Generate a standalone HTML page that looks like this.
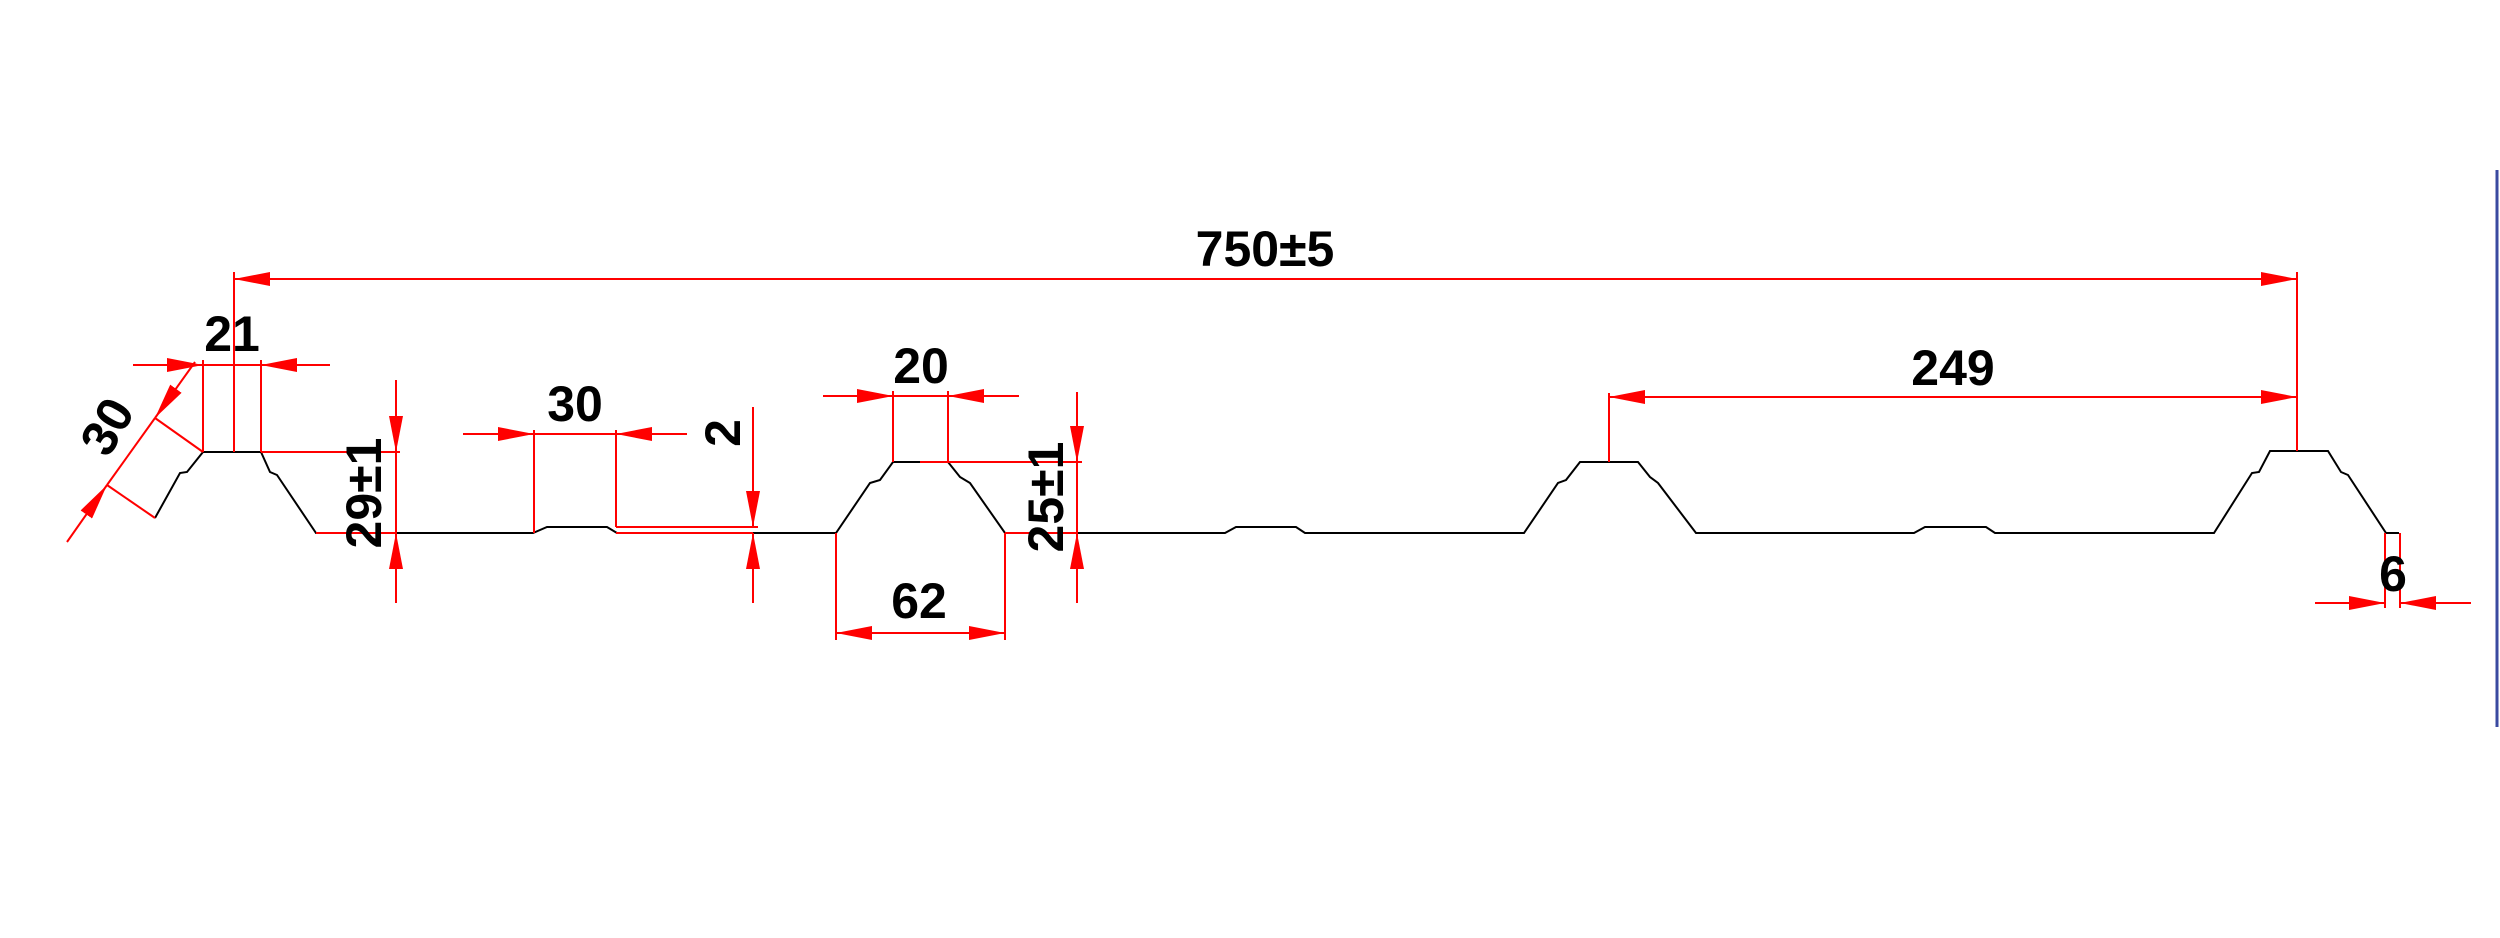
<!DOCTYPE html>
<html><head><meta charset="utf-8"><style>
html,body{margin:0;padding:0;background:#fff;}
svg{display:block;}
text{font-family:"Liberation Sans",Arial,sans-serif;font-size:50px;font-weight:bold;fill:#000;}
</style></head><body>
<svg width="2500" height="938" viewBox="0 0 2500 938" xmlns="http://www.w3.org/2000/svg">
<defs>
<marker id="a" viewBox="0 0 36 14" refX="36" refY="7" markerWidth="36" markerHeight="14" markerUnits="userSpaceOnUse" orient="auto"><path d="M0,0 L36,7 L0,14 z" fill="#f00"/></marker>
</defs>
<line x1="2497" y1="170" x2="2497" y2="727" stroke="#3a4aa0" stroke-width="3"/>

<polyline fill="none" stroke="#000" stroke-width="2" points="
155,518 180,473 187,472 203,452 261,452 270,472 277,475 316,533
533,533 547,527 607,527 617,533
836,533 870,483 880,480 893,462 948,462 960,477 970,483 1005,533
1225,533 1236,527 1296,527 1305,533
1524,533 1558,483 1566,480 1580,462 1638,462 1650,477 1658,483 1696,533
1914,533 1925,527 1986,527 1995,533
2214,533 2252,473 2259,472 2270,451 2328,451 2341,472 2348,475 2386,533 2399,533"/>

<g stroke="#f00" stroke-width="2" fill="none">
<line x1="234" y1="272" x2="234" y2="452"/>
<line x1="2297" y1="272" x2="2297" y2="451"/>
<line x1="1265" y1="279" x2="234" y2="279" marker-end="url(#a)"/>
<line x1="1265" y1="279" x2="2297" y2="279" marker-end="url(#a)"/>
<line x1="1609" y1="393" x2="1609" y2="462"/>
<line x1="1950" y1="397" x2="1609" y2="397" marker-end="url(#a)"/>
<line x1="1950" y1="397" x2="2297" y2="397" marker-end="url(#a)"/>
<line x1="203" y1="360" x2="203" y2="452"/>
<line x1="261" y1="360" x2="261" y2="452"/>
<line x1="133" y1="365" x2="203" y2="365" marker-end="url(#a)"/>
<line x1="330" y1="365" x2="261" y2="365" marker-end="url(#a)"/>
<line x1="203" y1="365" x2="261" y2="365"/>
<line x1="155" y1="518" x2="107" y2="485"/>
<line x1="203" y1="452" x2="155" y2="418"/>
<line x1="67" y1="542" x2="107" y2="485" marker-end="url(#a)"/>
<line x1="195" y1="362" x2="155" y2="418" marker-end="url(#a)"/>
<line x1="107" y1="485" x2="155" y2="418"/>
<line x1="261" y1="452" x2="400" y2="452"/>
<line x1="316" y1="533" x2="396" y2="533"/>
<line x1="396" y1="380" x2="396" y2="452" marker-end="url(#a)"/>
<line x1="396" y1="603" x2="396" y2="533" marker-end="url(#a)"/>
<line x1="396" y1="452" x2="396" y2="533"/>
<line x1="534" y1="430" x2="534" y2="533"/>
<line x1="616" y1="430" x2="616" y2="527"/>
<line x1="463" y1="434" x2="534" y2="434" marker-end="url(#a)"/>
<line x1="687" y1="434" x2="616" y2="434" marker-end="url(#a)"/>
<line x1="534" y1="434" x2="616" y2="434"/>
<line x1="616" y1="527" x2="758" y2="527"/>
<line x1="616" y1="533" x2="753" y2="533"/>
<line x1="753" y1="407" x2="753" y2="527" marker-end="url(#a)"/>
<line x1="753" y1="603" x2="753" y2="533" marker-end="url(#a)"/>
<line x1="893" y1="391" x2="893" y2="462"/>
<line x1="948" y1="391" x2="948" y2="462"/>
<line x1="823" y1="396" x2="893" y2="396" marker-end="url(#a)"/>
<line x1="1019" y1="396" x2="948" y2="396" marker-end="url(#a)"/>
<line x1="893" y1="396" x2="948" y2="396"/>
<line x1="920" y1="462" x2="1082" y2="462"/>
<line x1="1005" y1="533" x2="1077" y2="533"/>
<line x1="1077" y1="392" x2="1077" y2="462" marker-end="url(#a)"/>
<line x1="1077" y1="603" x2="1077" y2="533" marker-end="url(#a)"/>
<line x1="1077" y1="462" x2="1077" y2="533"/>
<line x1="836" y1="533" x2="836" y2="640"/>
<line x1="1005" y1="533" x2="1005" y2="640"/>
<line x1="920" y1="633" x2="836" y2="633" marker-end="url(#a)"/>
<line x1="920" y1="633" x2="1005" y2="633" marker-end="url(#a)"/>
<line x1="2385" y1="533" x2="2385" y2="608"/>
<line x1="2400" y1="533" x2="2400" y2="608"/>
<line x1="2315" y1="603" x2="2385" y2="603" marker-end="url(#a)"/>
<line x1="2471" y1="603" x2="2400" y2="603" marker-end="url(#a)"/>
</g>

<text x="1265" y="266" text-anchor="middle">750±5</text>
<text x="1953" y="385" text-anchor="middle">249</text>
<text x="232" y="351" text-anchor="middle">21</text>
<text x="575" y="421" text-anchor="middle">30</text>
<text x="921" y="383" text-anchor="middle">20</text>
<text x="919" y="618" text-anchor="middle">62</text>
<text x="2393" y="591" text-anchor="middle">6</text>
<text transform="translate(122,435) rotate(-60)" text-anchor="middle">30</text>
<text transform="translate(381,493) rotate(-90)" text-anchor="middle">29±1</text>
<text transform="translate(740,433) rotate(-90)" text-anchor="middle">2</text>
<text transform="translate(1063,497) rotate(-90)" text-anchor="middle">25±1</text>
</svg>
</body></html>
